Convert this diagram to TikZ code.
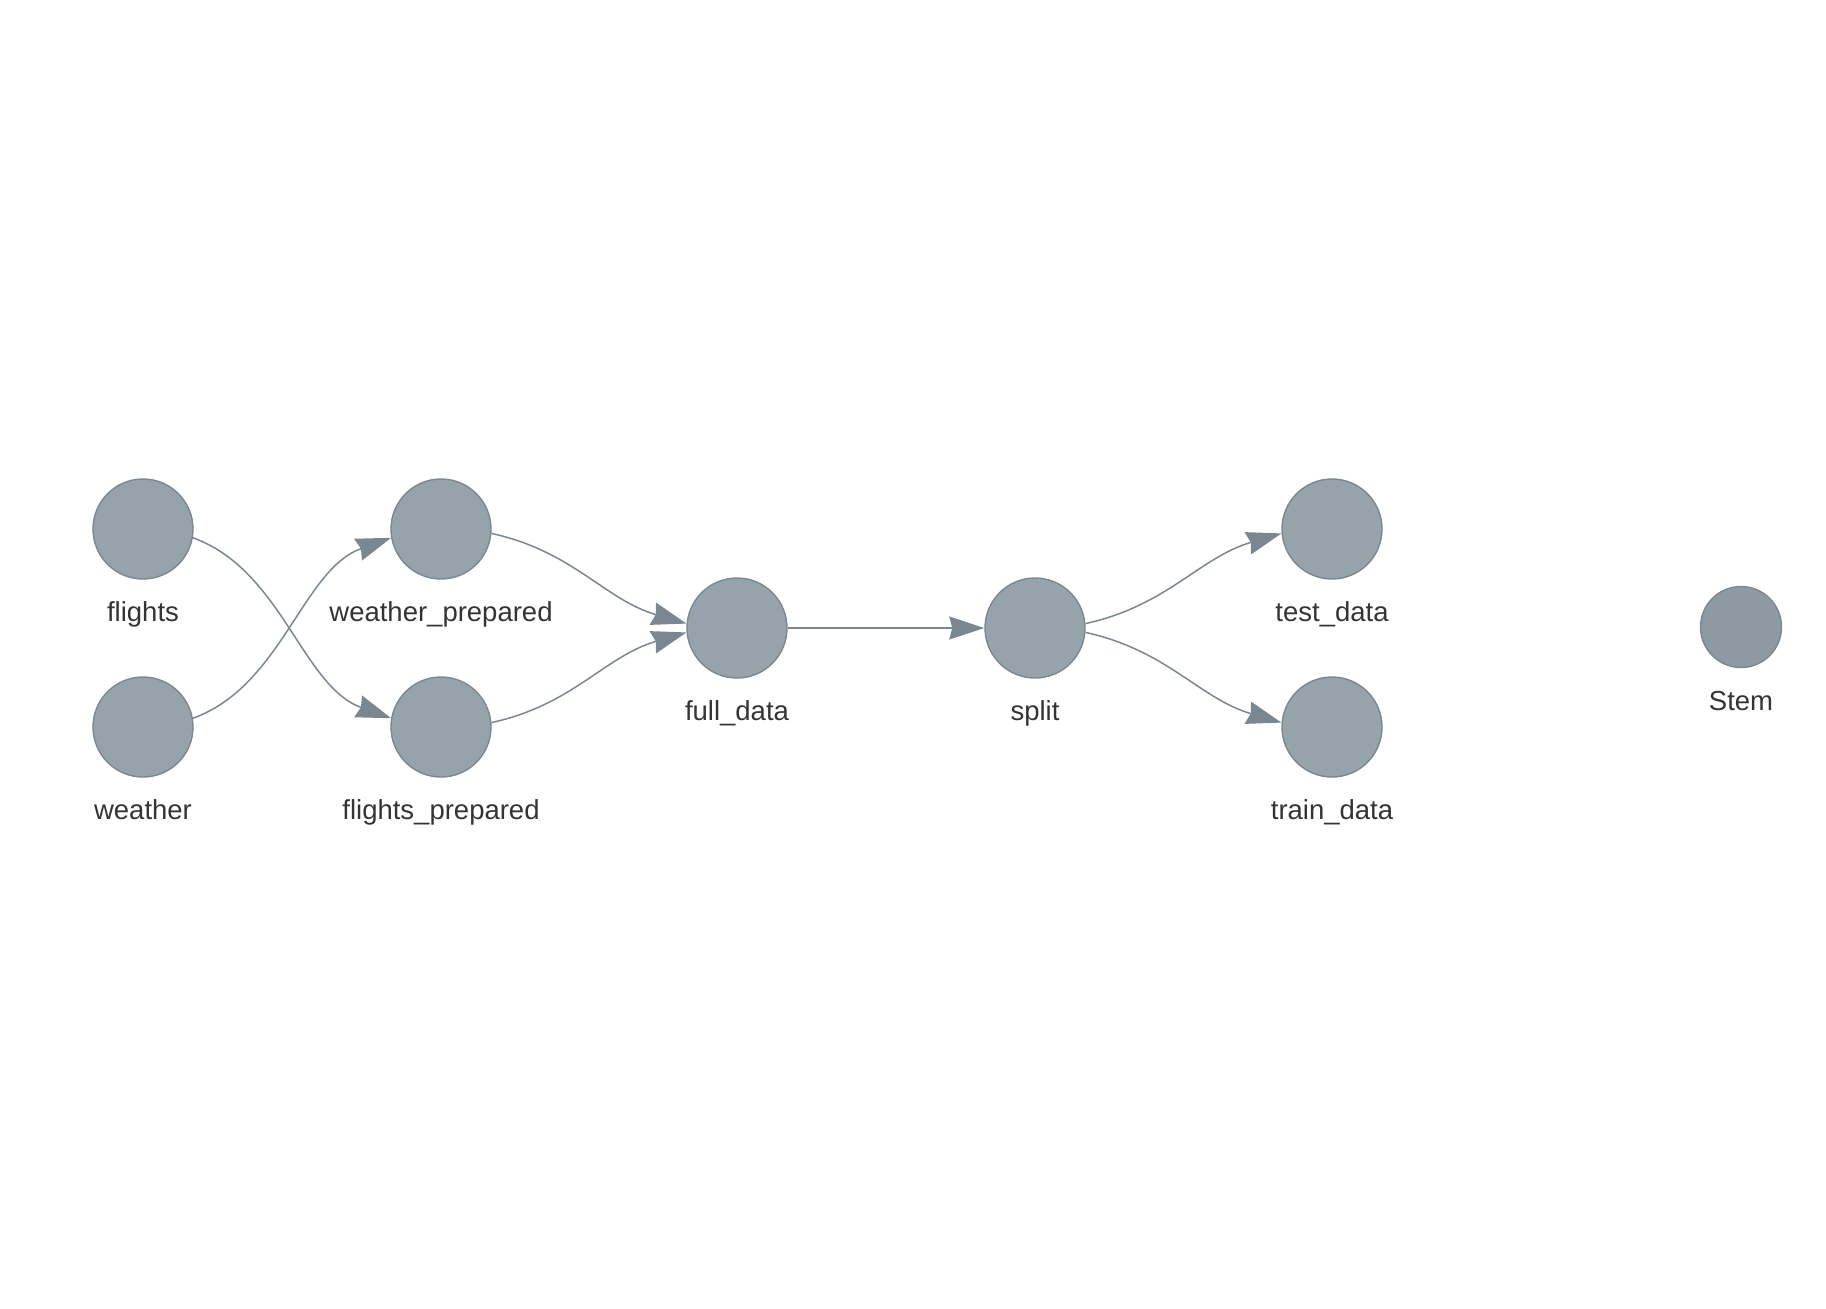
\documentclass[tikz,border=0pt]{standalone}
\usepackage{fontspec}
\setmainfont{Liberation Sans}
\usetikzlibrary{arrows.meta}
\definecolor{nodefill}{HTML}{97A3AB}
\definecolor{nodeline}{HTML}{7B8891}
\definecolor{stemfill}{HTML}{8D9AA2}
\definecolor{edgecol}{HTML}{7A8790}
\definecolor{labelcol}{HTML}{343434}

\begin{document}
\begin{tikzpicture}[x=0.5pt,y=-0.5pt,
  target/.style={draw=nodeline,fill=nodefill,circle,line width=0.7pt,inner sep=0pt,minimum size=50pt},
  stemnode/.style={draw=nodeline,fill=stemfill,circle,line width=0.7pt,inner sep=0pt,minimum size=40.5pt},
  lbl/.style={anchor=base,text=labelcol,font=\fontsize{13.75}{16}\selectfont,inner sep=0pt},
  dep/.style={draw=edgecol,line width=0.75pt,-{Stealth[length=17.5pt,width=11.5pt,inset=1.5pt]}}]
  \useasboundingbox (0,0) rectangle (1826,1308);

  \node (flights) at (143,529) [target] {};
  \node (weather) at (143,727) [target] {};
  \node (wprep) at (441,529) [target] {};
  \node (fprep) at (441,727) [target] {};
  \node (full) at (737,628) [target] {};
  \node (split) at (1035,628) [target] {};
  \node (test) at (1332,529) [target] {};
  \node (train) at (1332,727) [target] {};
  \node (stem) at (1741,627) [stemnode] {};

  \node (flights-lbl) at (143,621) [lbl] {flights};
  \node (weather-lbl) at (143,819) [lbl] {weather};
  \node (wprep-lbl) at (441,621) [lbl] {weather\_prepared};
  \node (fprep-lbl) at (441,819) [lbl] {flights\_prepared};
  \node (full-lbl) at (737,720) [lbl] {full\_data};
  \node (split-lbl) at (1035,720) [lbl] {split};
  \node (test-lbl) at (1332,621) [lbl] {test\_data};
  \node (train-lbl) at (1332,819) [lbl] {train\_data};
  \node (stem-lbl) at (1741,710) [lbl] {Stem};

  \draw[dep] (flights.-10) .. controls +(89,32) and +(-89,-32) .. (fprep.170);
  \draw[dep] (weather.10) .. controls +(89,-32) and +(-89,32) .. (wprep.190);
  \draw[dep] (wprep.-5) .. controls +(82,18) and +(-82,-24) .. (full.175);
  \draw[dep] (fprep.5) .. controls +(82,-18) and +(-82,24) .. (full.185);
  \draw[dep] (full) -- (split);
  \draw[dep] (split.5) .. controls +(82,-18) and +(-82,24) .. (test.185);
  \draw[dep] (split.-5) .. controls +(82,18) and +(-82,-24) .. (train.175);
\end{tikzpicture}
\end{document}
